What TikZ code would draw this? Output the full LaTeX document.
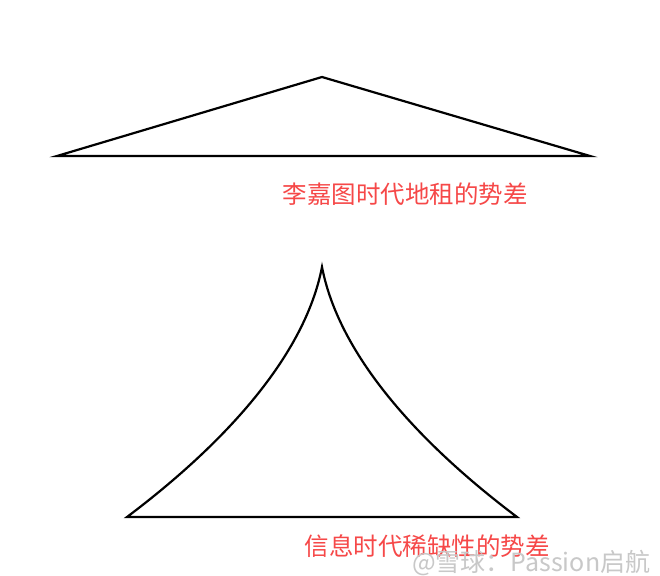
\documentclass[tikz,border=0pt]{standalone}
\usepackage{fontspec}
\newfontfamily\cjk{Noto Sans CJK SC}
\definecolor{labelred}{RGB}{246,72,72}
\definecolor{wmgray}{RGB}{200,200,200}
\begin{document}
\begin{tikzpicture}[x=1pt,y=-1pt,
  shape line/.style={line width=2.2pt,line join=miter,black},
  redlabel/.style={text=labelred,font=\cjk\fontsize{24.5}{27}\selectfont,inner sep=0pt},
  watermark/.style={text=wmgray,font=\cjk\fontsize{25}{28}\selectfont,inner sep=0pt}]
\useasboundingbox (0,0) rectangle (660,575);
\fill[white] (0,0) rectangle (660,575);
% top triangle
\coordinate (tl) at (57,156);
\coordinate (ta) at (322,77);
\coordinate (tr) at (590,156);
\draw[shape line] (tl) -- (ta) -- (tr) -- cycle;
\node[redlabel] (lab1) at (405,194) {李嘉图时代地租的势差};
% bottom cusp shape
\coordinate (bl) at (127,517);
\coordinate (ba) at (322,267);
\coordinate (br) at (517,517);
\draw[shape line] (bl) .. controls (200,462) and (302,370) .. (ba)
  .. controls (342,370) and (444,462) .. (br) -- cycle;
\node[redlabel] (lab2) at (427,546) {信息时代稀缺性的势差};
\node[watermark,anchor=west] (wm) at (412,563) {@雪球：Passion启航};
\end{tikzpicture}
\end{document}
